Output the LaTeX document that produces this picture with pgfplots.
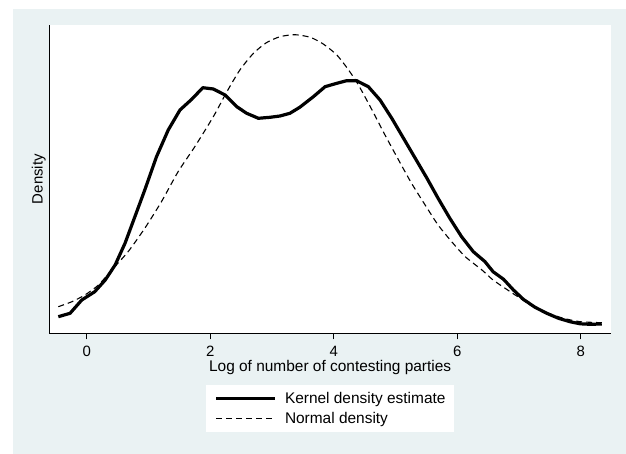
\documentclass[border=0pt]{standalone}
\usepackage{fontspec}
\setmainfont{Liberation Sans}
\usepackage{pgfplots}
\pgfplotsset{compat=1.18}
\definecolor{bg}{RGB}{234,242,243}
\begin{document}
\begin{tikzpicture}[x=1bp,y=1bp]
\useasboundingbox (-49.3,-120.7) rectangle (576.7,333.3);
\fill[white] (-49.3,-120.7) rectangle (576.7,333.3);
\fill[bg] (-36.6,-120.7) rectangle (576.7,324.3);
\begin{axis}[
  at={(0,0)}, anchor=south west,
  width=561.7bp, height=308.3bp, scale only axis,
  xmin=-0.606, xmax=8.49, ymin=0, ymax=308.3,
  axis background/.style={fill=white},
  axis x line*=bottom, axis y line*=left,
  axis line style={-, black, line width=0.8bp},
  xtick={0,2,4,6,8}, ytick=\empty,
  tick align=outside, major tick length=6bp,
  xtick style={black, line width=0.6bp},
  /pgf/number format/assume math mode=true,
  x tick label style={font=\fontsize{15}{18}\selectfont, anchor=base, yshift=-17.6bp},
  xlabel={Log of number of contesting parties},
  ylabel={Density},
  xlabel style={font=\fontsize{15.5}{18}\selectfont, at={(axis description cs:0.5,-0.1245)}, anchor=base},
  ylabel style={font=\fontsize{15}{18}\selectfont, at={(axis description cs:-0.01175,0.5)}, anchor=base},
  legend style={at={(axis description cs:0.5,-0.1677)}, anchor=north, draw=none, fill=white,
    font=\fontsize{15.5}{18}\selectfont, inner xsep=8.8bp, inner ysep=7bp, row sep=7bp,
    nodes={inner sep=0bp},
    /tikz/every odd column/.append style={column sep=8bp}},
  legend cell align=left,
  legend image code/.code={\draw[#1] (0bp,0bp) -- (59bp,0bp);},
]
\addplot[black, line width=3.2bp, line join=round] coordinates {
(-0.46,16.6) (-0.27,20) (-0.08,33.3) (0.13,41.6) (0.30,53.3) (0.46,68.3) (0.62,90)
(0.78,116.6) (0.94,143.3) (1.13,176.6) (1.32,203.3) (1.51,223.3) (1.70,234) (1.88,245.6)
(2.05,244.3) (2.24,238.3) (2.43,226.6) (2.59,220) (2.78,215) (2.97,216) (3.13,217.3)
(3.29,220) (3.45,226) (3.67,236.6) (3.86,246.6) (4.05,250) (4.21,252.6) (4.37,252.6)
(4.56,246.6) (4.75,233.3) (4.94,215) (5.13,195) (5.32,175) (5.51,155) (5.69,135)
(5.88,115) (6.07,96.6) (6.26,81.6) (6.45,71.6) (6.58,61.6) (6.75,54) (6.91,43.3)
(7.07,34) (7.26,26) (7.45,20) (7.64,15) (7.83,11.5) (7.99,9.5) (8.15,9) (8.34,9.3)
};
\addlegendentry{Kernel density estimate}
\addplot[black, line width=1.1bp, dash pattern=on 6bp off 4bp, smooth, tension=0.4] coordinates {
(-0.46,26.6) (-0.24,31.6) (-0.03,38.3) (0.19,48.3) (0.43,65) (0.67,81.6) (0.94,105)
(1.21,131.6) (1.48,161.6) (1.75,186.6) (2.05,216.6) (2.27,241.6) (2.48,263.3) (2.70,280)
(2.91,290.6) (3.13,296.6) (3.37,298.6) (3.62,296) (3.83,289.3) (4.05,278.3) (4.24,263.3)
(4.40,248.3) (4.62,223.3) (4.83,198.3) (5.05,173.3) (5.26,150) (5.48,128.3) (5.69,108.3)
(5.91,91.6) (6.13,76.6) (6.40,63.3) (6.58,53.3) (6.80,44) (7.02,35) (7.23,26.6)
(7.45,20.6) (7.72,15) (7.99,11.6) (8.34,10.6)
};
\addlegendentry{Normal density}
\end{axis}
\end{tikzpicture}
\end{document}
